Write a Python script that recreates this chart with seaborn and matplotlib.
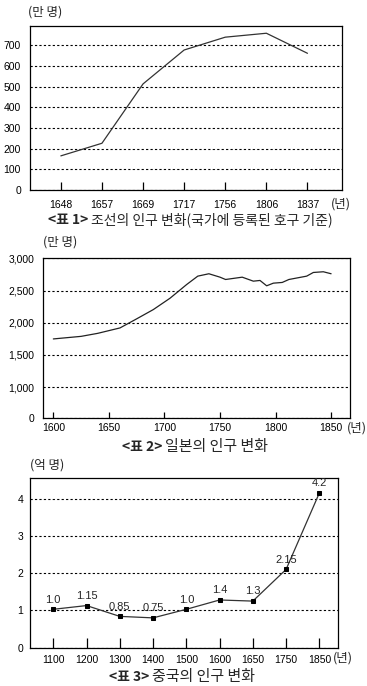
import numpy as np
import matplotlib
matplotlib.use("Agg")
import matplotlib.pyplot as plt
import seaborn as sns

# Data
joseon_years = ["1648", "1657", "1669", "1717", "1756", "1806", "1837"]
joseon_pop = [165, 226, 513, 677, 739, 758, 661]          # 만 명

japan_years = [1600, 1625, 1640, 1660, 1675, 1690, 1705, 1720, 1730, 1740,
               1750, 1755, 1770, 1780, 1786, 1792, 1798, 1806, 1812, 1828,
               1834, 1843, 1850]
japan_pop = [1748, 1788, 1835, 1919, 2060, 2204, 2380, 2593, 2723, 2760,
             2707, 2671, 2707, 2645, 2656, 2573, 2614, 2625, 2671, 2723,
             2780, 2791, 2760]                              # 만 명
japan_ticks = [1000, 1500, 2000, 2500, 3000]
japan_floor = 525   # axis is broken below 1,000: bottom spine is labelled 0

china_years = ["1100", "1200", "1300", "1400", "1500", "1600", "1650", "1750", "1850"]
china_pop = [1.03, 1.13, 0.84, 0.80, 1.03, 1.28, 1.25, 2.10, 4.15]   # 억 명 (as drawn)
china_labels = ["1.0", "1.15", "0.85", "0.75", "1.0", "1.4", "1.3", "2.15", "4.2"]

# Style
sns.set_style("white")
KR = ["Noto Sans CJK KR", "DejaVu Sans"]
NUM = ["Liberation Sans Narrow", "Liberation Sans", "DejaVu Sans"]
plt.rcParams["font.family"] = KR
plt.rcParams["axes.edgecolor"] = "black"
plt.rcParams["axes.linewidth"] = 0.9

LINE = "#333333"
W, H = 367, 686


def fx(px):
    return px / W


def fy(py):
    return 1 - py / H


def style_axes(ax, xpad, ypad, ticklen):
    for s in ax.spines.values():
        s.set_visible(True)
        s.set_color("black")
        s.set_linewidth(0.9)
    ax.tick_params(axis="x", direction="in", length=ticklen, width=0.9,
                   color="black", pad=xpad, bottom=True)
    ax.tick_params(axis="y", length=0, pad=ypad)
    ax.yaxis.grid(True, color="black", linestyle=(0, (2, 2)), linewidth=0.8)
    ax.xaxis.grid(False)
    ax.set_xlabel("")
    ax.set_ylabel("")
    for lab in ax.get_xticklabels() + ax.get_yticklabels():
        lab.set_fontfamily(NUM)
        lab.set_fontsize(7.5)
        lab.set_color("black")


def title(fig, bold_part, rest, split_px, y_px, size):
    fig.text(fx(split_px), fy(y_px), bold_part, ha="right", va="center",
             fontsize=10, fontweight="bold", family=KR)
    fig.text(fx(split_px + 3), fy(y_px), rest, ha="left", va="center",
             fontsize=size, family=KR)


fig = plt.figure(figsize=(W / 100, H / 100), dpi=100)

# <표 1> 조선
ax1 = fig.add_axes([fx(30), fy(190), fx(312), 164 / H])
x1 = np.arange(len(joseon_years))
sns.lineplot(x=x1, y=joseon_pop, ax=ax1, color=LINE, linewidth=0.9)
ax1.set_xlim(-0.75, 6.84)
ax1.set_ylim(0, 793)
ax1.set_xticks(x1)
ax1.set_xticklabels(joseon_years)
ax1.set_yticks(range(0, 800, 100))
style_axes(ax1, xpad=7, ypad=6.5, ticklen=6)
fig.text(fx(28), fy(12), "(만 명)", ha="left", va="center", fontsize=9, family=KR)
fig.text(fx(331), fy(204), "(년)", ha="left", va="center", fontsize=9, family=KR)
title(fig, "<표 1>", "조선의 인구 변화(국가에 등록된 호구 기준)", 88, 220, 10)

# <표 2> 일본
ax2 = fig.add_axes([fx(43), fy(417.7), fx(307), 159.4 / H])
sns.lineplot(x=japan_years, y=japan_pop, ax=ax2, color="#222222", linewidth=0.9)
ax2.set_xlim(1590.7, 1867)
ax2.set_ylim(japan_floor, 3000)
ax2.set_xticks(range(1600, 1851, 50))
ax2.set_yticks([japan_floor] + japan_ticks)
ax2.set_yticklabels(["0"] + [f"{v:,}" for v in japan_ticks])
style_axes(ax2, xpad=3.6, ypad=6, ticklen=4.5)
fig.text(fx(43), fy(242), "(만 명)", ha="left", va="center", fontsize=9, family=KR)
fig.text(fx(346.7), fy(427.7), "(년)", ha="left", va="center", fontsize=9, family=KR)
title(fig, "<표 2>", "일본의 인구 변화", 162, 446.7, 10.8)

# <표 3> 중국
ax3 = fig.add_axes([fx(30), fy(647.7), fx(308.3), 170 / H])
x3 = np.arange(len(china_years))
sns.lineplot(x=x3, y=china_pop, ax=ax3, color=LINE, linewidth=0.9,
             marker="s", markersize=3.5, markeredgecolor="black",
             markerfacecolor="black")
for xi, yi, lab in zip(x3, china_pop, china_labels):
    ax3.annotate(lab, (xi, yi), xytext=(0, 7), textcoords="offset points",
                 ha="center", va="center", fontsize=8, family=NUM)
ax3.set_xlim(-0.70, 8.57)
ax3.set_ylim(0, 4.56)
ax3.set_xticks(x3)
ax3.set_xticklabels(china_years)
ax3.set_yticks(range(0, 5))
style_axes(ax3, xpad=5, ypad=5, ticklen=7)
fig.text(fx(30), fy(465), "(억 명)", ha="left", va="center", fontsize=9, family=KR)
fig.text(fx(333), fy(658.3), "(년)", ha="left", va="center", fontsize=9, family=KR)
title(fig, "<표 3>", "중국의 인구 변화", 149, 676.7, 10.8)

fig.savefig("out.png", dpi=100)
